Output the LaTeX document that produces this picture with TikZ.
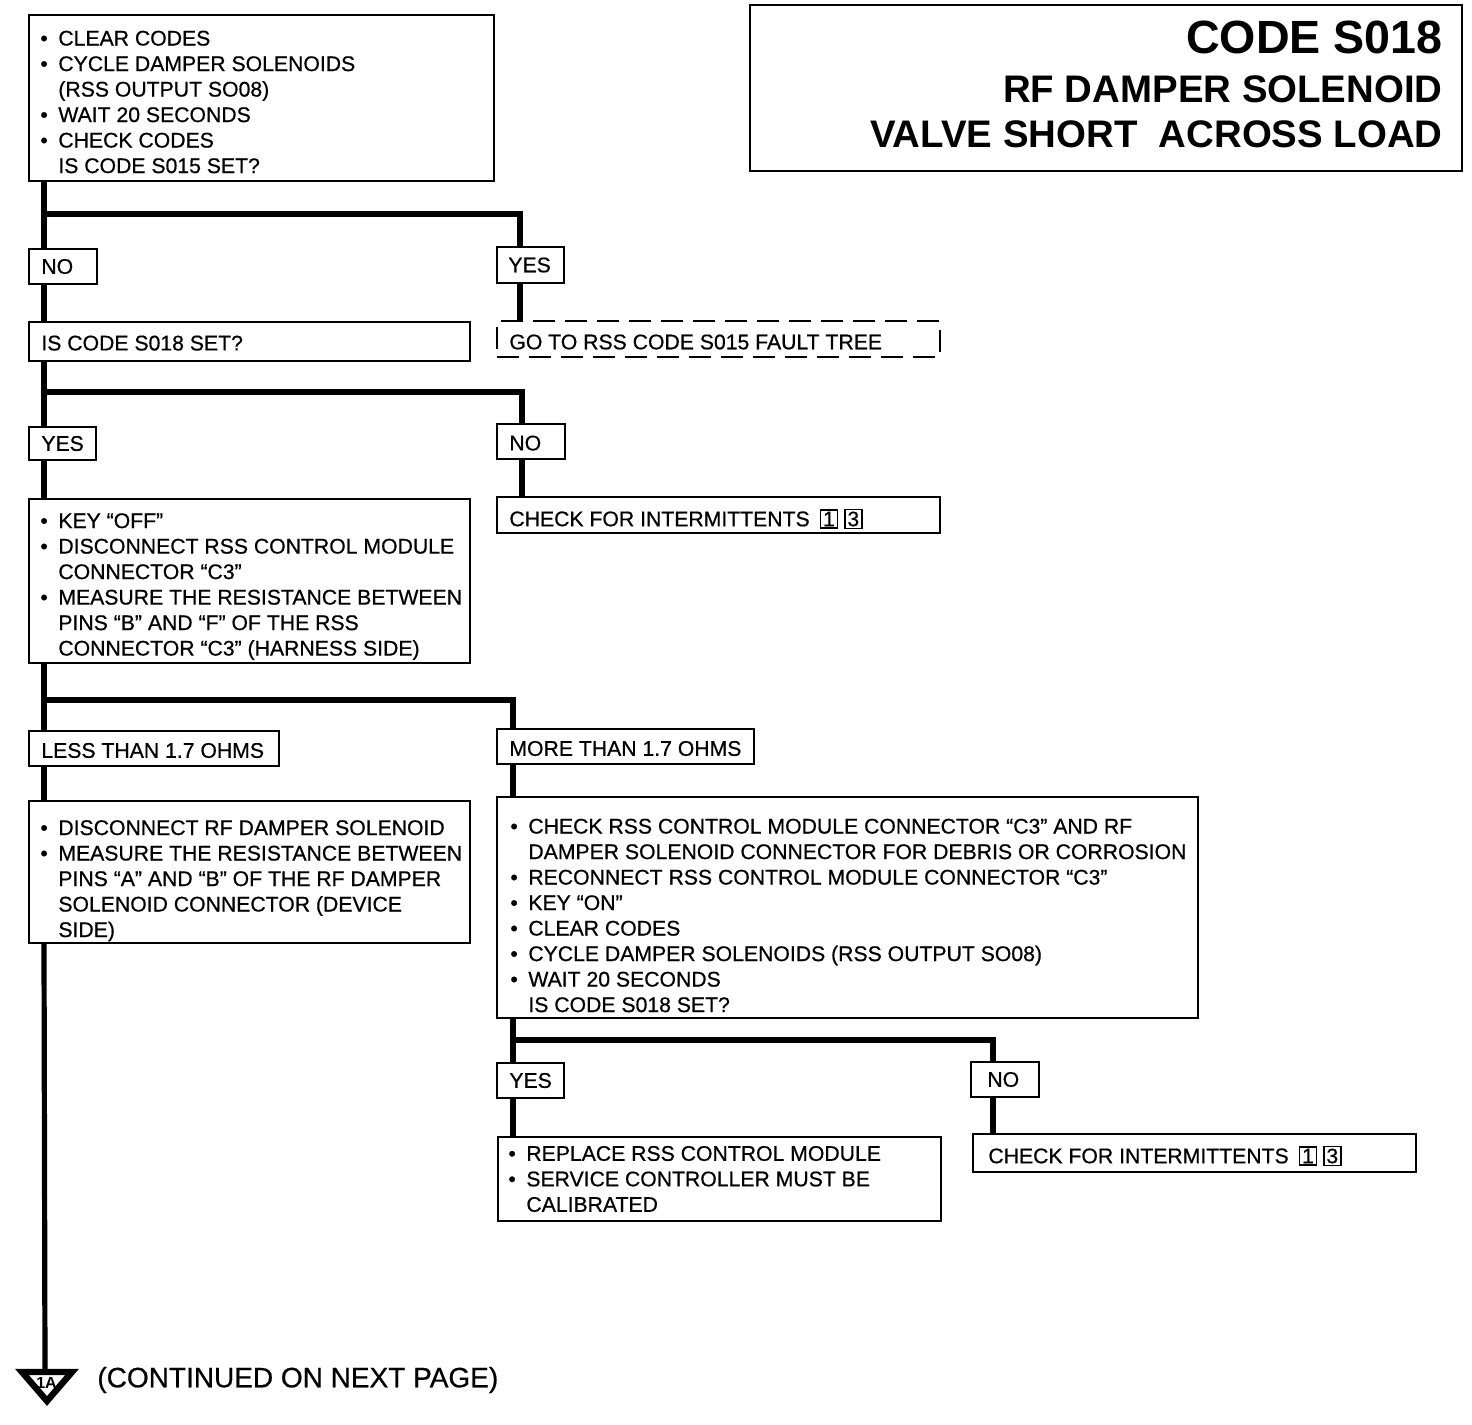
\documentclass[tikz,border=0pt]{standalone}
\usepackage{fontspec}
\setmainfont{Liberation Sans}
\newfontfamily\bodyfont{Liberation Sans}[FakeBold=0.6]
\usetikzlibrary{calc}
\newcommand\bl{\makebox[9pt][l]{•}}
\newcommand\ind{\hspace*{9pt}}
\newcommand\nb[1]{{\setlength\fboxsep{0.6pt}\setlength\fboxrule{0.7pt}\fbox{\makebox[6.6pt]{\fontsize{10.5}{10.5}\selectfont #1}}}}
\begin{document}
\begin{tikzpicture}[x=0.5pt,y=-0.5pt,
  box/.style={draw,line width=1.4pt,inner sep=0pt,outer sep=0pt,anchor=north west},
  bx/.style 2 args={minimum width=#1*0.5pt,minimum height=#2*0.5pt},
  txt/.style={inner sep=0pt,anchor=west,align=left,font=\bodyfont\fontsize{10.6}{12.75}\selectfont},
  conn/.style={line width=2.6pt,line join=miter},
  ttl/.style={inner sep=0pt,anchor=base east,font=\bfseries}
]
\useasboundingbox (0,0) rectangle (1472,1424);
\fill[white] (0,0) rectangle (1472,1424);

% title
\node[box,bx={712}{166},line width=1.3pt] (title) at (750,5) {};
\node[ttl,font=\fontsize{23.3}{26}\selectfont\bfseries] (t1) at (1443,54) {CODE S018};
\node[ttl,font=\fontsize{19.2}{22}\selectfont\bfseries] (t2) at (1443,102) {RF DAMPER SOLENOID};
\node[ttl,font=\fontsize{19.2}{22}\selectfont\bfseries] (t3) at (1443,147) {VALVE SHORT\ \ ACROSS LOAD};

% boxes
\node[box,bx={465}{166}] (b1) at (29,15) {};
\node[txt] (b1t) at ([xshift=5.5pt,yshift=-2pt]b1.west) {\bl CLEAR CODES\\ \bl CYCLE DAMPER SOLENOIDS\\ \ind(RSS OUTPUT SO08)\\ \bl WAIT 20 SECONDS\\ \bl CHECK CODES\\ \ind IS CODE S015 SET?};

\node[box,bx={68}{35}] (no1) at (29,249) {};
\node[txt] (no1t) at ([xshift=6pt]no1.west) {NO};
\node[box,bx={67}{36}] (yes1) at (497,247) {};
\node[txt] (yes1t) at ([xshift=5.5pt]yes1.west) {YES};

\node[box,bx={441}{39}] (q2) at (29,322) {};
\node[txt] (q2t) at ([xshift=6pt,yshift=-0.8pt]q2.west) {IS CODE S018 SET?};
\node[box,bx={443}{36},dash pattern=on 11pt off 5pt] (go) at (497,321) {};
\node[txt] (got) at ([xshift=6pt,yshift=-1.5pt]go.west) {GO TO RSS CODE S015 FAULT TREE};

\node[box,bx={67}{33}] (yes2) at (29,427) {};
\node[txt] (yes2t) at ([xshift=6pt]yes2.west) {YES};
\node[box,bx={68}{35}] (no2) at (497,424) {};
\node[txt] (no2t) at ([xshift=6pt,yshift=-0.8pt]no2.west) {NO};

\node[box,bx={443}{36}] (int1) at (497,497) {};
\node[txt] (int1t) at ([xshift=6pt,yshift=-2pt]int1.west) {CHECK FOR INTERMITTENTS\hspace{5pt}\nb{1}\hspace{3pt}\nb{3}};

\node[box,bx={441}{164}] (b3) at (29,499) {};
\node[txt] (b3t) at ([xshift=5.5pt,yshift=-2.8pt]b3.west) {\bl KEY “OFF”\\ \bl DISCONNECT RSS CONTROL MODULE\\ \ind CONNECTOR “C3”\\ \bl MEASURE THE RESISTANCE BETWEEN\\ \ind PINS “B” AND “F” OF THE RSS\\ \ind CONNECTOR “C3” (HARNESS SIDE)};

\node[box,bx={250}{35}] (lt) at (29,731) {};
\node[txt] (ltt) at ([xshift=6pt,yshift=-1pt]lt.west) {LESS THAN 1.7 OHMS};
\node[box,bx={257}{35}] (mt) at (497,729) {};
\node[txt] (mtt) at ([xshift=6pt,yshift=-1pt]mt.west) {MORE THAN 1.7 OHMS};

\node[box,bx={441}{142}] (b4) at (29,801) {};
\node[txt] (b4t) at ([xshift=5.5pt,yshift=-4.4pt]b4.west) {\bl DISCONNECT RF DAMPER SOLENOID\\ \bl MEASURE THE RESISTANCE BETWEEN\\ \ind PINS “A” AND “B” OF THE RF DAMPER\\ \ind SOLENOID CONNECTOR (DEVICE\\ \ind SIDE)};

\node[box,bx={701}{221}] (b5) at (497,797) {};
\node[txt] (b5t) at ([xshift=6.5pt,yshift=-4pt]b5.west) {\bl CHECK RSS CONTROL MODULE CONNECTOR “C3” AND RF\\ \ind DAMPER SOLENOID CONNECTOR FOR DEBRIS OR CORROSION\\ \bl RECONNECT RSS CONTROL MODULE CONNECTOR “C3”\\ \bl KEY “ON”\\ \bl CLEAR CODES\\ \bl CYCLE DAMPER SOLENOIDS (RSS OUTPUT SO08)\\ \bl WAIT 20 SECONDS\\ \ind IS CODE S018 SET?};

\node[box,bx={67}{35}] (yes3) at (497,1063) {};
\node[txt] (yes3t) at ([xshift=6pt]yes3.west) {YES};
\node[box,bx={68}{35}] (no3) at (971,1062) {};
\node[txt] (no3t) at ([xshift=8pt]no3.west) {NO};

\node[box,bx={443}{84}] (rep) at (498,1137) {};
\node[txt] (rept) at ([xshift=5pt]rep.west) {\bl REPLACE RSS CONTROL MODULE\\ \bl SERVICE CONTROLLER MUST BE\\ \ind CALIBRATED};
\node[box,bx={443}{38}] (int2) at (973,1134) {};
\node[txt] (int2t) at ([xshift=7.5pt,yshift=-1.5pt]int2.west) {CHECK FOR INTERMITTENTS\hspace{5pt}\nb{1}\hspace{3pt}\nb{3}};

% off-page connector
\coordinate (tri) at (45,1370);
\draw[line width=3.2pt,line join=miter] (22,1372) -- (72,1372) -- (47,1401) -- cycle;
\node[inner sep=0pt,font=\fontsize{8}{8}\selectfont\bfseries] (tri1a) at (46.5,1383) {1A};
\node[inner sep=0pt,anchor=west,font=\bodyfont\fontsize{14}{16}\selectfont] (cont) at (97,1380) {(CONTINUED ON NEXT PAGE)};

% connectors
\coordinate (tx) at (44,0);
\coordinate (c1) at (520,0);
\coordinate (c2) at (522,0);
\coordinate (c3) at (513,0);
\coordinate (c4) at (993,0);
\coordinate (j1) at (44,214);
\coordinate (j2) at (44,392);
\coordinate (j3) at (44,700);
\coordinate (j4) at (513,1040);

\draw[conn] (b1.south -| tx) -- (no1.north -| tx);
\draw[conn] (no1.south -| tx) -- (q2.north -| tx);
\draw[conn] (q2.south -| tx) -- (yes2.north -| tx);
\draw[conn] (yes2.south -| tx) -- (b3.north -| tx);
\draw[conn] (b3.south -| tx) -- (lt.north -| tx);
\draw[conn] (lt.south -| tx) -- (b4.north -| tx);
\draw[conn] (b4.south -| tx) -- (tri);

\draw[conn] (j1) -| (yes1.north -| c1);
\draw[conn] (yes1.south -| c1) -- (go.north -| c1);
\draw[conn] (j2) -| (no2.north -| c2);
\draw[conn] (no2.south -| c2) -- (int1.north -| c2);
\draw[conn] (j3) -| (mt.north -| c3);
\draw[conn] (mt.south -| c3) -- (b5.north -| c3);
\draw[conn] (b5.south -| c3) -- (yes3.north -| c3);
\draw[conn] (yes3.south -| c3) -- (rep.north -| c3);
\draw[conn] (j4) -| (no3.north -| c4);
\draw[conn] (no3.south -| c4) -- (int2.north -| c4);
\end{tikzpicture}
\end{document}
